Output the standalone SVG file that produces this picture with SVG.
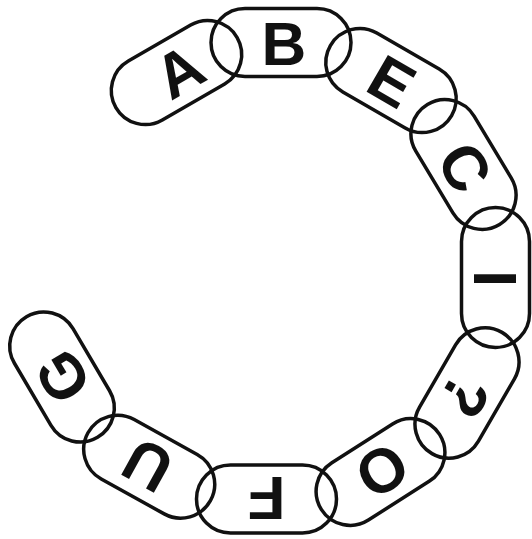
<svg xmlns="http://www.w3.org/2000/svg" width="532" height="539" viewBox="0 0 532 539">
<style>
.link{fill:none;stroke:#111;stroke-width:3.5}
.lt{font-family:"Liberation Sans",Arial,sans-serif;font-weight:bold;font-size:62px;fill:#111;text-anchor:middle}
</style>
<defs>
<rect id="cap" x="-70" y="-34" width="140" height="68" rx="34" ry="34"/>
</defs>
<rect width="532" height="539" fill="#fff"/>
<g id="nodes">
<g id="link-A" transform="translate(176.5,72.5) rotate(-30)"><use href="#cap" class="link"/><text class="lt" x="3" y="22">A</text></g>
<g id="link-B" transform="translate(281,42.5)"><use href="#cap" class="link"/><text class="lt" x="3" y="22">B</text></g>
<g id="link-E" transform="translate(391,80.5) rotate(30)"><use href="#cap" class="link"/><text class="lt" x="1" y="22">E</text></g>
<g id="link-C" transform="translate(463.5,164.5) rotate(59)"><use href="#cap" class="link"/><text class="lt" x="3" y="22">C</text></g>
<g id="link-I" transform="translate(495.5,277.5) rotate(90)"><use href="#cap" class="link"/><text class="lt" x="1" y="22">I</text></g>
<g id="link-Q" transform="translate(467,393) rotate(120)"><use href="#cap" class="link"/><text class="lt" x="4" y="22">?</text></g>
<g id="link-O" transform="translate(380.5,472) rotate(147.5)"><use href="#cap" class="link"/><text class="lt" x="-2" y="22">O</text></g>
<g id="link-F" transform="translate(266.5,499) rotate(180)"><use href="#cap" class="link"/><text class="lt" x="0" y="22">F</text></g>
<g id="link-U" transform="translate(149.2,466.7) rotate(209)"><use href="#cap" class="link"/><text class="lt" x="2" y="22">U</text></g>
<g id="link-G" transform="translate(62,377) rotate(239.5)"><use href="#cap" class="link"/><text class="lt" x="0" y="22">G</text></g>
</g>
</svg>
